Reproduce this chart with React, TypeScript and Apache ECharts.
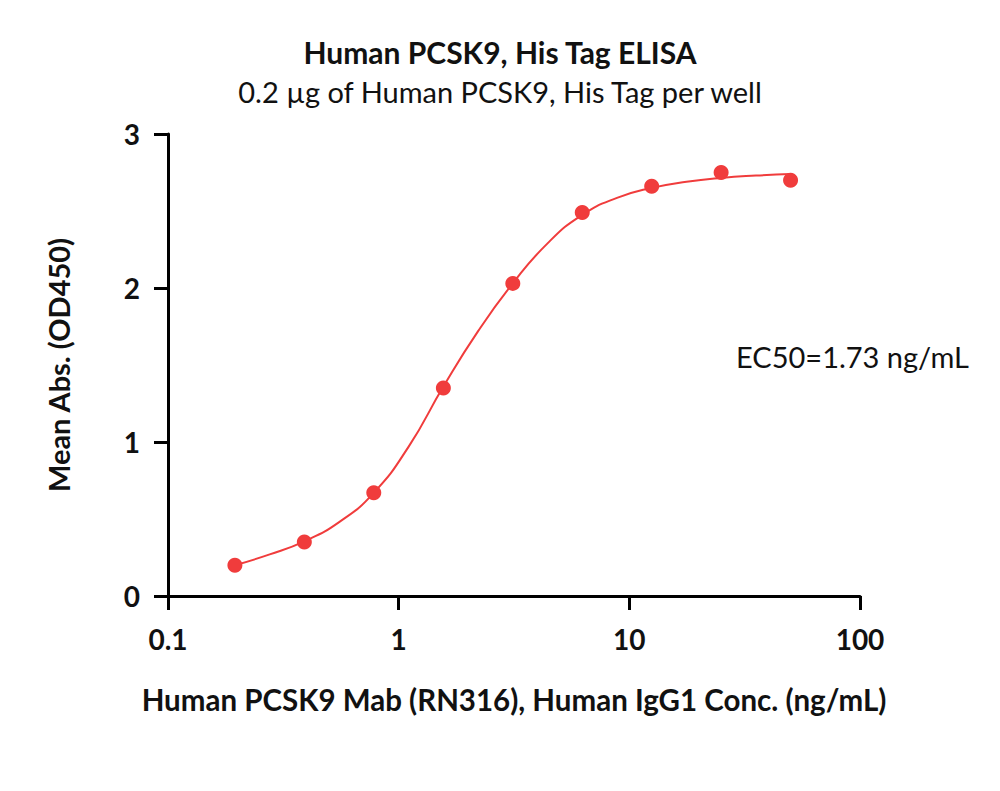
import React, { useEffect, useRef } from "react";
import * as echarts from "echarts";

const titleText = "Human PCSK9, His Tag ELISA";
const subtitleText = "0.2 µg of Human PCSK9, His Tag per well";
const xAxisName = "Human PCSK9 Mab (RN316), Human IgG1 Conc. (ng/mL)";
const yAxisName = "Mean Abs. (OD450)";
const ec50Text = "EC50=1.73 ng/mL";

// Measured points (concentration ng/mL, mean OD450)
const concentrations = [0.195, 0.39, 0.78, 1.5625, 3.125, 6.25, 12.5, 25, 50];
const meanAbs = [0.2, 0.35, 0.67, 1.35, 2.03, 2.49, 2.66, 2.75, 2.7];

// Fitted curve
const curveX = [0.195, 0.276, 0.39, 0.552, 0.78, 1.105, 1.5625, 2.21, 3.125, 4.42, 6.25, 8.84, 12.5, 17.7, 25, 35.4, 50];
const curveY = [0.2, 0.27, 0.355, 0.48, 0.67, 0.97, 1.36, 1.72, 2.03, 2.29, 2.475, 2.585, 2.65, 2.69, 2.715, 2.73, 2.74];

const xTickLabels: Record<string, string> = { "0.1": "0.1", "1": "1", "10": "10", "100": "100" };

const RED = "#F03C3C";
const FONT = "Lato";

export default function App() {
  const ref = useRef<HTMLDivElement>(null);
  useEffect(() => {
    if (!ref.current) return;
    const chart = echarts.init(ref.current, null, { renderer: "svg" });
    chart.setOption({
      animation: false,
      backgroundColor: "#ffffff",
      textStyle: { fontFamily: FONT },
      title: [
        {
          text: titleText,
          left: "center",
          top: 32,
          textStyle: { fontFamily: FONT, fontSize: 30, fontWeight: "bold", color: "#111" },
        },
        {
          text: subtitleText,
          left: "center",
          top: 72,
          textStyle: { fontFamily: FONT, fontSize: 29, fontWeight: "normal", color: "#111" },
        },
      ],
      grid: { left: 168, right: 140, top: 134, bottom: 195 },
      xAxis: {
        type: "log",
        logBase: 10,
        min: 0.1,
        max: 100,
        name: xAxisName,
        nameLocation: "middle",
        nameGap: 88,
        nameTextStyle: { fontFamily: FONT, fontSize: 29.5, fontWeight: "bold", color: "#111" },
        axisLine: { show: true, lineStyle: { color: "#000", width: 3 } },
        axisTick: { show: true, length: 14, lineStyle: { color: "#000", width: 3 } },
        minorTick: { show: false },
        splitLine: { show: false },
        axisLabel: {
          margin: 29,
          fontFamily: FONT,
          fontSize: 28,
          fontWeight: "bold",
          color: "#111",
          formatter: (v: number) => xTickLabels[String(v)] ?? String(v),
        },
      },
      yAxis: {
        type: "value",
        min: 0,
        max: 3,
        interval: 1,
        name: yAxisName,
        nameLocation: "middle",
        nameGap: 95,
        nameTextStyle: { fontFamily: FONT, fontSize: 29, fontWeight: "bold", color: "#111" },
        axisLine: { show: true, lineStyle: { color: "#000", width: 3 } },
        axisTick: { show: true, length: 14, lineStyle: { color: "#000", width: 3 } },
        splitLine: { show: false },
        axisLabel: {
          margin: 28,
          fontFamily: FONT,
          fontSize: 28,
          fontWeight: "bold",
          color: "#111",
        },
      },
      graphic: [
        {
          type: "text",
          left: 736,
          top: 342,
          style: { text: ec50Text, fontFamily: FONT, fontSize: 29, fill: "#111" },
        },
      ],
      series: [
        {
          type: "line",
          data: curveX.map((x, i) => [x, curveY[i]]),
          smooth: 0.5,
          showSymbol: false,
          symbol: "none",
          lineStyle: { color: RED, width: 2 },
          z: 2,
        },
        {
          type: "scatter",
          data: concentrations.map((x, i) => [x, meanAbs[i]]),
          symbol: "circle",
          symbolSize: 15,
          itemStyle: { color: RED, opacity: 1 },
          z: 3,
        },
      ],
    });
    return () => chart.dispose();
  }, []);
  return <div ref={ref} style={{ width: 1000, height: 791, position: "absolute", left: 0, top: 0 }} />;
}
